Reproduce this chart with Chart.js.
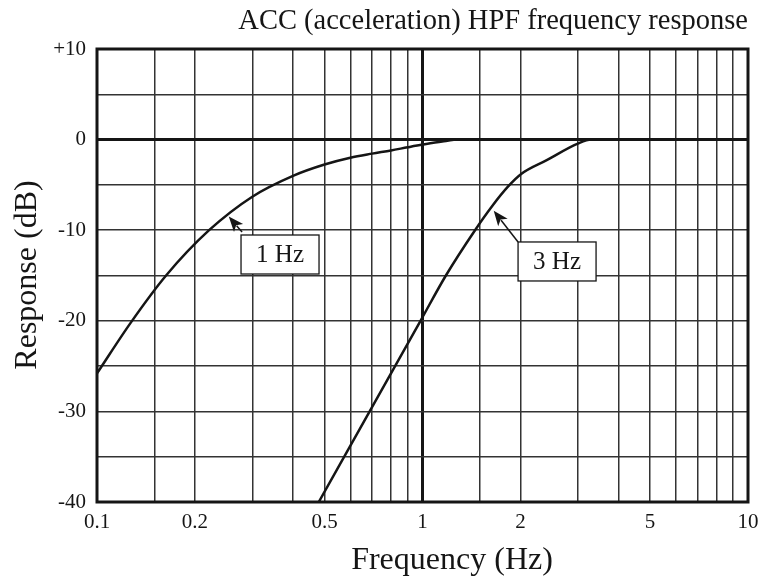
<!DOCTYPE html>
<html>
<head>
<meta charset="utf-8">
<script src="https://cdn.jsdelivr.net/npm/chart.js@4.4.0/dist/chart.umd.min.js"></script>
<style>
  html, body { margin: 0; padding: 0; background: #fff; }
  #wrap { width: 763px; height: 580px; position: relative; }
</style>
</head>
<body>
<div id="wrap"><canvas id="hpfChart"></canvas></div>
<script>
// 1 Hz filter curve (frequency in Hz, response in dB)
var freq1Hz = [0.1, 0.127, 0.163, 0.221, 0.3, 0.4, 0.5, 0.6, 0.7, 0.8, 0.9, 1.0, 1.15, 1.3, 2, 5, 10];
var resp1Hz = [-25.8, -20.2, -15, -10, -6.3, -4.0, -2.75, -2.0, -1.55, -1.2, -0.85, -0.55, -0.2, 0, 0, 0, 0];

// 3 Hz filter curve
var freq3Hz = [0.48, 0.986, 1.18, 1.45, 1.64, 1.83, 2.01, 2.4, 3.0, 3.3, 5, 10];
var resp3Hz = [-40, -20, -15, -10, -7.3, -5.2, -3.8, -2.3, -0.45, 0, 0, 0];

// grid / tick positions
var xGridValues = [0.1, 0.15, 0.2, 0.3, 0.4, 0.5, 0.6, 0.7, 0.8, 0.9, 1, 1.5, 2, 3, 4, 5, 6, 7, 8, 9, 10];
var xTickLabels = [0.1, 0.2, 0.5, 1, 2, 5, 10];
var yLabelValues = [10, 0, -10, -20, -30, -40];

// callout labels: text, arrow tip, arrow tail and box corner in data units
var calloutText = ['1 Hz', '3 Hz'];
var calloutTip = [[0.254, -8.5], [1.655, -7.85]];
var calloutTail = [[0.279, -10.2], [1.966, -11.3]];
var calloutBox = [[0.277, -10.53], [1.966, -11.3]];

var SERIF = '"Liberation Serif", "DejaVu Serif", serif';
var INK = '#151515';

function toPoints(xs, ys) {
    return xs.map(function(x, i) { return { x: x, y: ys[i] }; });
}

// title, axis titles, frame and callouts
var decorPlugin = {
    id: 'decor',
    afterDatasetsDraw: function(chart) {
        var ctx = chart.ctx;
        var xs = chart.scales.x, ys = chart.scales.y;
        ctx.save();
        calloutText.forEach(function(text, i) {
            var tx = xs.getPixelForValue(calloutTip[i][0]);
            var ty = ys.getPixelForValue(calloutTip[i][1]);
            var bx = xs.getPixelForValue(calloutTail[i][0]);
            var by = ys.getPixelForValue(calloutTail[i][1]);
            // arrow shaft
            var ang = Math.atan2(ty - by, tx - bx);
            var headLen = 15, headW = 6;
            ctx.strokeStyle = INK;
            ctx.lineWidth = 1.5;
            ctx.beginPath();
            ctx.moveTo(bx, by);
            ctx.lineTo(tx - Math.cos(ang) * headLen * 0.8, ty - Math.sin(ang) * headLen * 0.8);
            ctx.stroke();
            // arrow head
            ctx.fillStyle = INK;
            ctx.beginPath();
            ctx.moveTo(tx, ty);
            ctx.lineTo(tx - Math.cos(ang) * headLen - Math.sin(ang) * headW,
                       ty - Math.sin(ang) * headLen + Math.cos(ang) * headW);
            ctx.lineTo(tx - Math.cos(ang) * headLen * 0.75, ty - Math.sin(ang) * headLen * 0.75);
            ctx.lineTo(tx - Math.cos(ang) * headLen + Math.sin(ang) * headW,
                       ty - Math.sin(ang) * headLen - Math.cos(ang) * headW);
            ctx.closePath();
            ctx.fill();
            // box
            var rx = xs.getPixelForValue(calloutBox[i][0]);
            var ry = ys.getPixelForValue(calloutBox[i][1]);
            var w = 78, h = 39;
            ctx.fillStyle = '#fff';
            ctx.fillRect(rx, ry, w, h);
            ctx.lineWidth = 1.3;
            ctx.strokeStyle = INK;
            ctx.strokeRect(rx, ry, w, h);
            ctx.fillStyle = INK;
            ctx.font = '25px ' + SERIF;
            ctx.textAlign = 'center';
            ctx.textBaseline = 'middle';
            ctx.fillText(text, rx + w / 2, ry + h / 2 + 1);
        });
        ctx.restore();
    },
    afterDraw: function(chart) {
        var ctx = chart.ctx;
        var a = chart.chartArea;
        ctx.save();
        // heavy frame
        ctx.strokeStyle = INK;
        ctx.lineWidth = 3;
        ctx.strokeRect(a.left, a.top, a.right - a.left, a.bottom - a.top);
        // title
        ctx.fillStyle = INK;
        ctx.font = '28.5px ' + SERIF;
        ctx.textAlign = 'right';
        ctx.textBaseline = 'alphabetic';
        ctx.fillText('ACC (acceleration) HPF frequency response', 748, 29);
        // x axis title
        ctx.font = '32px ' + SERIF;
        ctx.textAlign = 'center';
        ctx.fillText('Frequency (Hz)', 452, 569);
        // y axis title
        ctx.translate(36, 275);
        ctx.rotate(-Math.PI / 2);
        ctx.fillText('Response (dB)', 0, 0);
        ctx.restore();
    }
};

var hpfChart = new Chart(document.getElementById('hpfChart'), {
    type: 'scatter',
    data: {
        datasets: [{
            label: '1 Hz',
            data: toPoints(freq1Hz, resp1Hz),
            showLine: true,
            borderColor: INK,
            borderWidth: 2.5,
            pointRadius: 0,
            cubicInterpolationMode: 'monotone'
        }, {
            label: '3 Hz',
            data: toPoints(freq3Hz, resp3Hz),
            showLine: true,
            borderColor: INK,
            borderWidth: 2.5,
            pointRadius: 0,
            cubicInterpolationMode: 'monotone'
        }]
    },
    options: {
        responsive: true,
        maintainAspectRatio: false,
        animation: false,
        layout: {
            padding: { left: 0, right: 15, top: 49, bottom: 0 }
        },
        plugins: {
            legend: { display: false },
            tooltip: { enabled: false },
            title: { display: false }
        },
        scales: {
            x: {
                type: 'logarithmic',
                min: 0.1,
                max: 10,
                afterBuildTicks: function(scale) {
                    scale.ticks = xGridValues.map(function(v) { return { value: v }; });
                },
                afterFit: function(scale) {
                    scale.height = 78;
                    scale.paddingLeft = 0;
                    scale.paddingRight = 0;
                },
                border: { display: false },
                grid: {
                    drawTicks: false,
                    color: function(c) { return c.tick && c.tick.value === 1 ? INK : '#333'; },
                    lineWidth: function(c) { return c.tick && c.tick.value === 1 ? 3 : 1.5; }
                },
                ticks: {
                    autoSkip: false,
                    maxRotation: 0,
                    padding: 8,
                    color: INK,
                    font: { family: SERIF, size: 21 },
                    callback: function(value) {
                        return xTickLabels.indexOf(value) >= 0 ? String(value) : '';
                    }
                }
            },
            y: {
                min: -40,
                max: 10,
                afterFit: function(scale) {
                    scale.width = 97;
                    scale.paddingTop = 0;
                    scale.paddingBottom = 0;
                },
                border: { display: false },
                grid: {
                    drawTicks: false,
                    color: function(c) { return c.tick && c.tick.value === 0 ? INK : '#333'; },
                    lineWidth: function(c) { return c.tick && c.tick.value === 0 ? 3 : 1.5; }
                },
                ticks: {
                    stepSize: 5,
                    padding: 11,
                    color: INK,
                    font: { family: SERIF, size: 21 },
                    callback: function(value) {
                        if (yLabelValues.indexOf(value) < 0) return '';
                        return value > 0 ? '+' + value : String(value);
                    }
                }
            }
        }
    },
    plugins: [decorPlugin]
});
</script>
</body>
</html>
